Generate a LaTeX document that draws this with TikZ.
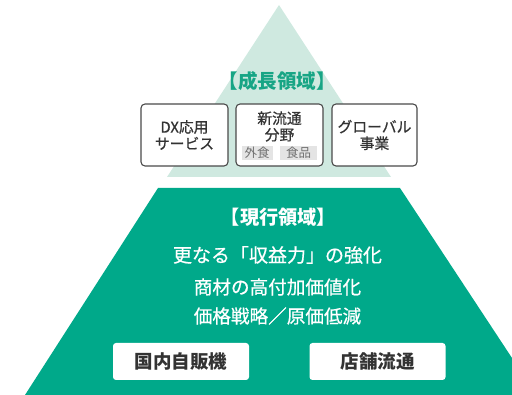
\documentclass[tikz,border=0pt]{standalone}
\usepackage{fontspec}
\setmainfont{Noto Sans CJK JP}
\newfontfamily\jpmed{Noto Sans CJK JP}[FakeBold=0.6]
\definecolor{dkgreen}{HTML}{00A98A}
\definecolor{ltgreen}{HTML}{CFE9E0}
\definecolor{ttlgreen}{HTML}{17A585}
\definecolor{boxline}{HTML}{4A4A4A}
\definecolor{txtdark}{HTML}{333333}
\definecolor{tagbg}{HTML}{E4E4E4}
\definecolor{tagtxt}{HTML}{707070}
\begin{document}
\begin{tikzpicture}[x=1pt,y=-1pt,
  topbox/.style={draw=boxline,line width=1.1pt,fill=white,rounded corners=4pt,inner sep=0pt,minimum height=62pt},
  toptext/.style={text=txtdark,align=center,font=\jpmed\fontsize{14.8}{16.5}\selectfont,inner sep=0pt},
  tagbox/.style={fill=tagbg,text=tagtxt,inner sep=0pt,minimum height=14pt,font=\fontsize{12.5}{14}\selectfont},
  botbox/.style={fill=white,rounded corners=3pt,inner sep=0pt,minimum height=37pt,minimum width=136pt,text=txtdark,font=\fontsize{18.5}{20}\selectfont\bfseries},
  wtext/.style={text=white,inner sep=0pt}]
\useasboundingbox (0,0) rectangle (512,395);
% growth triangle
\fill[ltgreen] (279,5) -- (391,177) -- (167,177) -- cycle;
% current trapezoid
\fill[dkgreen] (158,188) -- (400,188) -- (512,358) -- (512,395) -- (25,395) -- cycle;
% growth title
\node[text=ttlgreen,inner sep=0pt,font=\fontsize{19.5}{20}\selectfont\bfseries] (gt) at (277,81) {【成長領域】};
% top boxes
\node[topbox,minimum width=87pt] (b1) at (184.5,135) {};
\node[topbox,minimum width=87pt] (b2) at (279.5,135) {};
\node[topbox,minimum width=85pt] (b3) at (374.5,135) {};
\node[toptext] (t1) at (b1) {DX応用\\サービス};
\node[toptext] (t2) at (279.5,126.5) {新流通\\分野};
\node[toptext] (t3) at (b3) {グローバル\\事業};
\node[tagbox,minimum width=31pt] (g1) at (257,153) {外食};
\node[tagbox,minimum width=37pt] (g2) at (298.5,153) {食品};
% current texts
\node[wtext,font=\fontsize{19.2}{20}\selectfont\bfseries] (ct) at (278.5,217) {【現行領域】};
\node[wtext,font=\jpmed\fontsize{19}{20}\selectfont] (m1) at (277.5,255) {更なる「収益力」の強化};
\node[wtext,font=\jpmed\fontsize{18.6}{20}\selectfont] (m2) at (277.5,287) {商材の高付加価値化};
\node[wtext,font=\jpmed\fontsize{18.6}{20}\selectfont] (m3) at (277.5,316) {価格戦略／原価低減};
% bottom boxes
\node[botbox] (v1) at (181,361.5) {国内自販機};
\node[botbox] (v2) at (377.5,361.5) {店舗流通};
\end{tikzpicture}
\end{document}
